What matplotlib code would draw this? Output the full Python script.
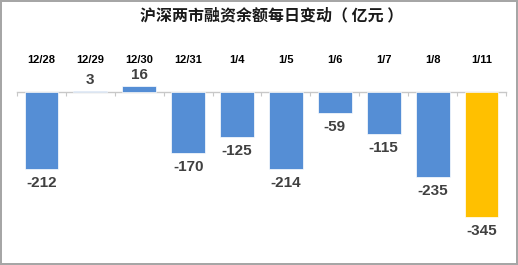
import matplotlib
matplotlib.use("Agg")
import matplotlib.pyplot as plt

categories = ["12/28", "12/29", "12/30", "12/31", "1/4", "1/5", "1/6", "1/7", "1/8", "1/11"]
values = [-212, 3, 16, -170, -125, -214, -59, -115, -235, -345]
bar_colors = ["#558ED5"] * 9 + ["#FFC000"]
title = "沪深两市融资余额每日变动（ 亿元 ）"

plt.rcParams['font.family'] = ['Liberation Sans', 'DejaVu Sans']

fig = plt.figure(figsize=(5.18, 2.65), dpi=100, edgecolor='#A6A6A6', linewidth=1.5)
ax = fig.add_axes([0.0328, 0.0943, 0.944, 0.649])

x = list(range(len(categories)))
bars = ax.bar(x, values, width=0.69, color=bar_colors, edgecolor='white', linewidth=0.5, zorder=2)

ax.set_xlim(-0.5, len(categories) - 0.5)
ax.set_ylim(-409, 66)

for s in ['left', 'right', 'top']:
    ax.spines[s].set_visible(False)
ax.spines['bottom'].set_position(('data', 0))
ax.spines['bottom'].set_color('#C8C8C8')
ax.spines['bottom'].set_linewidth(1.0)
ax.spines['bottom'].set_zorder(1)
ax.set_yticks([])

ax.set_xticks(x)
ax.set_xticklabels(categories, fontsize=8, fontweight='bold', color='black')
ax.set_xticks([i + 0.5 for i in x[:-1]] + [-0.5, len(categories) - 0.5], minor=True)
ax.tick_params(axis='x', which='major', length=0, labeltop=True, labelbottom=False, pad=2)
ax.tick_params(axis='x', which='minor', length=3, color='#C8C8C8', direction='out', width=0.8)

for b, v in zip(bars, values):
    cx = b.get_x() + b.get_width() / 2
    if v >= 0:
        ax.annotate(f"{v}", (cx, v), xytext=(0, 3), textcoords='offset points',
                    ha='center', va='bottom', fontsize=11, fontweight='bold', color='#404040')
    else:
        ax.annotate(f"{v}", (cx, v), xytext=(0, -5), textcoords='offset points',
                    ha='center', va='top', fontsize=11, fontweight='bold', color='#404040')

fig.text(0.524, 0.943, title, ha='center', va='center', fontsize=11.5, fontweight='bold',
         family=['Noto Sans CJK SC', 'DejaVu Sans'], color='#1A1A1A')

fig.savefig("out.png", dpi=100, edgecolor=fig.get_edgecolor())
